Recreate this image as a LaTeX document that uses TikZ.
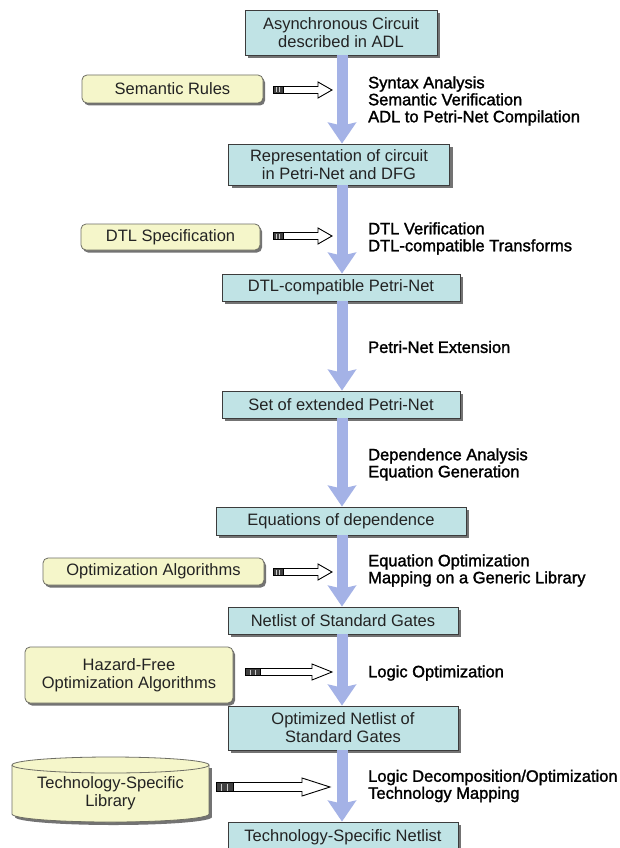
\documentclass[tikz,border=0pt]{standalone}
\usepackage{fontspec}
\setmainfont{Liberation Sans}
\newfontfamily\lblfam{Liberation Sans}[FakeBold=1.6]
\usetikzlibrary{arrows.meta,shadows}
\definecolor{arrowblue}{RGB}{164,178,230}
\definecolor{boxfill}{RGB}{192,227,229}
\definecolor{boxdraw}{RGB}{60,60,60}
\definecolor{yfill}{RGB}{245,246,202}
\definecolor{ydraw}{RGB}{110,110,100}
\definecolor{shadowgray}{RGB}{115,115,115}
\definecolor{txt}{RGB}{35,35,35}
\newcommand\bxfont{\fontsize{16.5}{18}\selectfont}
\newcommand\lbfont{\lblfam\fontsize{16.5}{17}\selectfont}
\newcommand\blkarrow[7]{%
  \draw[black, line width=0.9pt, fill=white] (#2,#5-#6) -- (#3,#5-#6) -- (#3,#5-#7) -- (#4,#5) -- (#3,#5+#7) -- (#3,#5+#6) -- (#2,#5+#6) -- cycle;
  \draw[black, line width=0.9pt, fill=black!75] (#1,#5-#6) rectangle (#2,#5+#6);
  \draw[white!80!black, line width=0.8pt] ({#1+(#2-#1)/3},#5-#6+1) -- ({#1+(#2-#1)/3},#5+#6-1)
                                  ({#1+2*(#2-#1)/3},#5-#6+1) -- ({#1+2*(#2-#1)/3},#5+#6-1);
}
\begin{document}
\begin{tikzpicture}[x=1pt,y=-1pt,
  mainbox/.style={draw=boxdraw, line width=0.8pt, fill=boxfill, text=txt, align=center,
    font=\bxfont, inner sep=0pt,
    drop shadow={shadow xshift=3pt, shadow yshift=-3pt, fill=shadowgray, opacity=1}},
  sidebox/.style={draw=ydraw, line width=0.8pt, fill=yfill, text=txt, align=center,
    font=\bxfont, inner sep=0pt, rounded corners=5pt,
    drop shadow={shadow xshift=2pt, shadow yshift=-2.5pt, fill=shadowgray, opacity=1}},
  lbl/.style={anchor=west, align=left, font=\lbfont, inner sep=0pt, text=black},
  mainarr/.style={draw=arrowblue, line width=11pt, -{Stealth[width=28pt,length=21pt,inset=3pt]}}]
\useasboundingbox (0,0) rectangle (619,848);
\clip (0,0) rectangle (619,848);
\fill[white] (0,0) rectangle (619,848);
\coordinate (ax) at (342,0);

% main boxes
\node[mainbox, minimum width=192pt, minimum height=45pt] (b1) at (341,32.5) {Asynchronous Circuit\\described in ADL};
\node[mainbox, minimum width=221pt, minimum height=41pt] (b2) at (339,164.5) {Representation of circuit\\in Petri-Net and DFG};
\node[mainbox, minimum width=238pt, minimum height=27pt] (b3) at (341,287.5) {DTL-compatible Petri-Net};
\node[mainbox, minimum width=238pt, minimum height=27pt] (b4) at (341,404.5) {Set of extended Petri-Net};
\node[mainbox, minimum width=250pt, minimum height=28pt] (b5) at (341,521) {Equations of dependence};
\node[mainbox, minimum width=230pt, minimum height=27pt] (b6) at (343,620.5) {Netlist of Standard Gates};
\node[mainbox, minimum width=230pt, minimum height=44pt] (b7) at (343,728) {Optimized Netlist of\\Standard Gates};
\node[mainbox, minimum width=230pt, minimum height=30pt] (b8) at (343,837) {Technology-Specific Netlist};

% main arrows
\draw[mainarr] (b1.south -| ax) -- (b2.north -| ax);
\draw[mainarr] (b2.south -| ax) -- (b3.north -| ax);
\draw[mainarr] (b3.south -| ax) -- (b4.north -| ax);
\draw[mainarr] (b4.south -| ax) -- (b5.north -| ax);
\draw[mainarr] (b5.south -| ax) -- (b6.north -| ax);
\draw[mainarr] (b6.south -| ax) -- (b7.north -| ax);
\draw[mainarr] (b7.south -| ax) -- (b8.north -| ax);

% side boxes
\node[sidebox, minimum width=181pt, minimum height=28pt] (sem) at (172.5,89) {Semantic Rules};
\node[sidebox, minimum width=179pt, minimum height=26pt] (dtl) at (170.5,237) {DTL Specification};
\node[sidebox, minimum width=221pt, minimum height=27pt] (opt) at (153.5,571.5) {Optimization Algorithms};
\node[sidebox, minimum width=208pt, minimum height=56pt] (haz) at (129,675) {Hazard-Free\\Optimization Algorithms};

% cylinder
\fill[shadowgray] (15,768) rectangle (212,817);
\fill[shadowgray] (113.5,817) ellipse [x radius=98.5, y radius=8];
\fill[yfill] (12,765) rectangle (209,814);
\fill[yfill] (110.5,814) ellipse [x radius=98.5, y radius=8];
\draw[ydraw, line width=0.8pt] (12,765) -- (12,814) arc[start angle=180, end angle=0, x radius=98.5, y radius=8] -- (209,765);
\draw[ydraw, line width=0.8pt, fill=yfill] (110.5,765) ellipse [x radius=98.5, y radius=8];
\node[text=txt, align=center, font=\bxfont, inner sep=0pt] (lib) at (110.5,793) {Technology-Specific\\Library};

% block arrows
\blkarrow{273}{283}{318}{332}{90}{3.5}{8}
\blkarrow{273}{283}{318}{332}{236}{3.5}{8}
\blkarrow{273}{283}{318}{332}{572}{3.5}{8}
\blkarrow{245}{260}{312}{332}{672}{3.5}{8}
\blkarrow{216}{233}{302}{330}{787}{4.5}{9}

% labels
\node[lbl] (l1) at (368,101) {Syntax Analysis\\Semantic Verification\\ADL to Petri-Net Compilation};
\node[lbl] (l2) at (368,238.5) {DTL Verification\\DTL-compatible Transforms};
\node[lbl] (l3) at (368,347) {Petri-Net Extension};
\node[lbl] (l4) at (368,464.5) {Dependence Analysis\\Equation Generation};
\node[lbl] (l5) at (368,570.5) {Equation Optimization\\Mapping on a Generic Library};
\node[lbl] (l6) at (368,673) {Logic Optimization};
\node[lbl] (l7) at (368,786) {Logic Decomposition/Optimization\\Technology Mapping};
\end{tikzpicture}
\end{document}
